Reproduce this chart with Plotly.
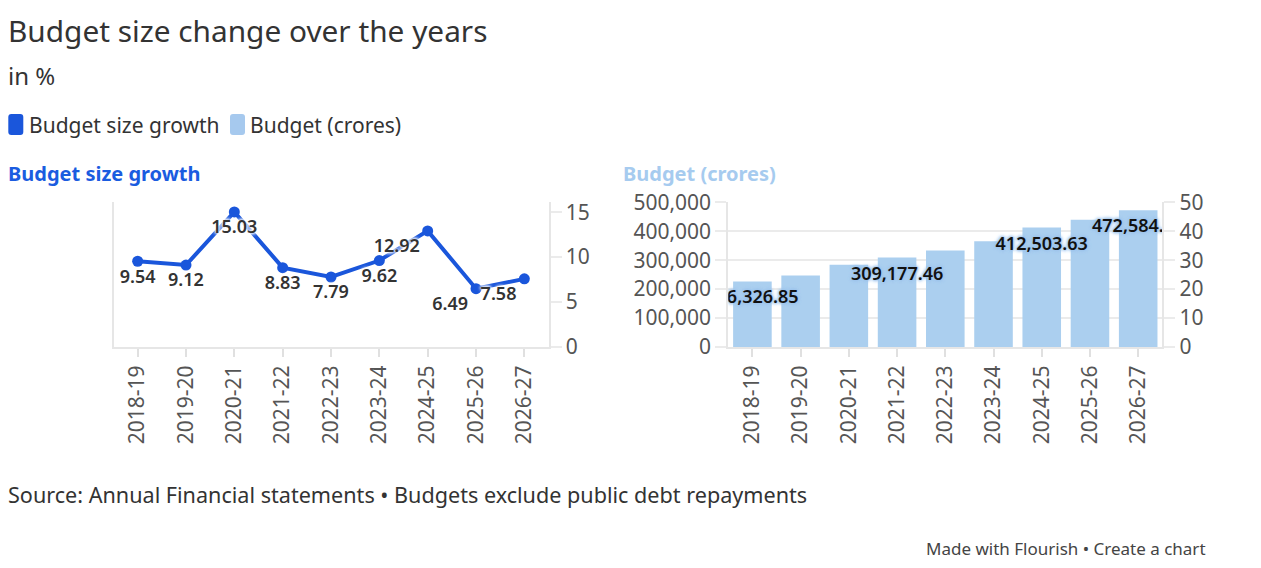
import plotly.graph_objects as go

# data
years = ["2018-19", "2019-20", "2020-21", "2021-22", "2022-23",
         "2023-24", "2024-25", "2025-26", "2026-27"]
growth = [9.54, 9.12, 15.03, 8.83, 7.79, 9.62, 12.92, 6.49, 7.58]
budget = [226326.85, 246967.0, 284087.0, 309177.46, 333262.0,
          365322.0, 412503.63, 439275.0, 472584.20]
budget_shown = ["2018-19", "2021-22", "2024-25", "2026-27"]  # bars Flourish kept labels for

W, H = 1261, 568
FONT = "Noto Sans"
BLUE = "#1a56db"
LIGHT = "#abcfef"
GRID = "#ebebeb"
TICK = "#555555"
INK = "#333333"


def px(x):
    return x / W


def py(y):
    return 1 - y / H


def rounded_rect(x0, y0, x1, y1, r=3):
    # pixel box -> svg path in paper coords
    rx, ry = r / W, r / H
    a, b, c, d = px(x0), py(y1), px(x1), py(y0)
    return (f"M{a + rx},{b} L{c - rx},{b} Q{c},{b} {c},{b + ry} "
            f"L{c},{d - ry} Q{c},{d} {c - rx},{d} L{a + rx},{d} "
            f"Q{a},{d} {a},{d - ry} L{a},{b + ry} Q{a},{b} {a + rx},{b} Z")


growth_pos = ["bottom center"] * len(years)
for i in (6, 7, 8):
    growth_pos[i] = "bottom left"

budget_text = [f"{v:,.2f}" if y in budget_shown else "" for y, v in zip(years, budget)]

fig = go.Figure()

fig.add_trace(go.Scatter(
    x=years, y=growth, xaxis="x", yaxis="y",
    mode="lines+markers+text", name="Budget size growth",
    line=dict(color=BLUE, width=4), marker=dict(color=BLUE, size=11),
    text=[f"{v:.2f}" for v in growth], textposition=growth_pos,
    textfont=dict(family=FONT, size=18, color=INK, weight=600,
                  shadow="0 0 3px #fff, 0 0 3px #fff, 0 0 4px #fff, 0 0 4px #fff"),
    cliponaxis=False, showlegend=False,
))

fig.add_trace(go.Bar(
    x=years, y=budget, xaxis="x2", yaxis="y2", name="Budget (crores)",
    marker=dict(color=LIGHT, line=dict(width=0)), showlegend=False,
))

# labels sit a little under the bar tops (invisible marker pushes them down)
fig.add_trace(go.Scatter(
    x=years, y=budget, xaxis="x2", yaxis="y2", mode="markers+text",
    marker=dict(size=12, opacity=0),
    text=budget_text, textposition="bottom center",
    textfont=dict(family=FONT, size=18, color="#111111", weight=600,
                  shadow="0 0 2px #9cc3ec, 0 0 3px #9cc3ec, 0 0 4px #9cc3ec, 0 0 4px #9cc3ec"),
    cliponaxis=True, showlegend=False, hoverinfo="skip",
))

# empty trace so the right-hand 0-50 axis gets drawn
fig.add_trace(go.Scatter(x=[], y=[], xaxis="x2", yaxis="y3", showlegend=False))

xcommon = dict(type="category", range=[-0.5, 8.5], tickangle=-90, ticks="outside",
               ticklen=8, tickcolor="#e0e0e0", tickwidth=2, showline=True,
               linecolor="#e6e6e6", linewidth=2, showgrid=False, zeroline=False,
               automargin=False,
               tickfont=dict(family=FONT, size=21, color=TICK), fixedrange=True)
ycommon = dict(ticks="outside", ticklen=11, tickcolor=GRID, tickwidth=2,
               showline=True, linecolor="#e6e6e6", linewidth=2, zeroline=False,
               automargin=False,
               tickfont=dict(family=FONT, size=21, color=TICK), fixedrange=True)
ydom = [py(347), py(202.3)]

fig.update_layout(
    width=W, height=H, autosize=False,
    margin=dict(l=0, r=0, t=0, b=0, autoexpand=False),
    paper_bgcolor="white", plot_bgcolor="white",
    font=dict(family=FONT, color=INK),
    bargap=0.2, showlegend=False,
    xaxis=dict(xcommon, domain=[px(113.5), px(548.5)], anchor="y"),
    yaxis=dict(ycommon, domain=ydom, anchor="x", side="right", mirror=True,
               range=[0, 16.1], tickvals=[0, 5, 10, 15], showgrid=False),
    xaxis2=dict(xcommon, domain=[px(728.3), px(1162.3)], anchor="y2"),
    yaxis2=dict(ycommon, domain=ydom, anchor="x2", side="left",
                range=[0, 500000], tickvals=[0, 100000, 200000, 300000, 400000, 500000],
                tickformat=",", showgrid=True, gridcolor=GRID, gridwidth=2),
    yaxis3=dict(ycommon, anchor="x2", overlaying="y2", side="right",
                range=[0, 50], tickvals=[0, 10, 20, 30, 40, 50], showgrid=False),
)


def note(text, x, y, size, color=INK, xanchor="left", bold=False):
    fig.add_annotation(
        text=f"<b>{text}</b>" if bold else text, x=px(x), y=py(y),
        xref="paper", yref="paper", xanchor=xanchor, yanchor="middle",
        showarrow=False, font=dict(family=FONT, size=size, color=color),
    )


note("Budget size change over the years", 6, 31, 29.8)
note("in %", 6, 75, 24)
note("Budget size growth", 27, 125, 21)
note("Budget (crores)", 248, 125, 21)
note("Budget size growth", 6, 174, 20, color="#1a5ce0", bold=True)
note("Budget (crores)", 621, 174, 20, color="#a6cbef", bold=True)
note("Source: Annual Financial statements \u2022 Budgets exclude public debt repayments",
     6, 494, 21.6)
note("Made with Flourish \u2022 Create a chart", 1208, 548, 17, color="#444444",
     xanchor="right")

for x0, col in ((8.3, BLUE), (230, "#a6c9ee")):
    fig.add_shape(type="path", path=rounded_rect(x0, 114, x0 + 15, 135, 3),
                  xref="paper", yref="paper", fillcolor=col, line=dict(width=0))

fig.write_html("out.html", config={"displayModeBar": False},
               post_script="document.body.style.margin='0';document.body.style.overflow='hidden';")
